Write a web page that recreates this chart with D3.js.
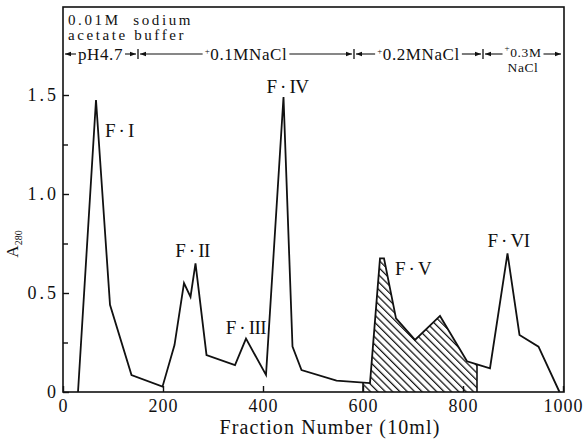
<!DOCTYPE html>
<html>
<head>
<meta charset="utf-8">
<script src="https://cdn.jsdelivr.net/npm/d3@7"></script>
<style>
  html, body { margin: 0; padding: 0; background: #fff; }
  svg { display: block; }
  text { font-family: "Liberation Serif", "DejaVu Serif", serif; fill: #111; }
</style>
</head>
<body>
<svg id="chart" width="586" height="439"></svg>
<script>
// Elution profile: fraction number vs absorbance at 280 nm
const fractions  = [30, 66, 94, 137, 199, 223, 242, 255, 265, 287, 344, 366, 406, 441, 459,
                    477, 547, 614, 634, 642, 666, 704, 754, 808, 828, 854, 889, 913, 951, 993];
const absorbance = [0, 1.475, 0.44, 0.086, 0.027, 0.237, 0.55, 0.48, 0.65, 0.187, 0.136, 0.27, 0.086, 1.49, 0.229,
                    0.111, 0.057, 0.045, 0.675, 0.675, 0.372, 0.263, 0.384, 0.155, 0.14, 0.12, 0.70, 0.288, 0.229, 0];

const xTickValues = [0, 200, 400, 600, 800, 1000];
const xTickLabels = ["0", "200", "400", "600", "800", "1000"];
const yTickValues = [0, 0.5, 1.0, 1.5];
const yTickLabels = ["0", "0.5", "1.0", "1.5"];
const yMinorTicks = [0.25, 0.75, 1.25];

// Peak names and the index of the point each one marks
const peakNames   = ["F·I", "F·II", "F·III", "F·IV", "F·V", "F·VI"];
const peakIndices = [1, 8, 11, 13, 19, 26];

// Eluent steps (fraction numbers where the buffer changes) and their labels
const bufferSteps  = [150, 582, 840];
const bufferLabels = [["pH4.7"], ["+0.1MNaCl"], ["+0.2MNaCl"], ["+0.3M", "NaCl"]];
const headerLines  = ["0.01M  sodium", "acetate buffer"];

// Hatched fraction range (F·V pool)
const hatchRange = [600, 828];

// ---- layout ----
const plot = { left: 63, right: 563, top: 7, bottom: 392 };
const svg = d3.select("#chart");
const ink = "#111";

const x = d3.scaleLinear().domain([0, 1000]).range([plot.left, plot.right]);
const y = d3.scaleLinear().domain([0, (plot.bottom - plot.top) / 198]).range([plot.bottom, plot.top]);

const pts = fractions.map((f, i) => [f, absorbance[i]]);

// hatch pattern
const defs = svg.append("defs");
defs.append("pattern")
  .attr("id", "hatch")
  .attr("patternUnits", "userSpaceOnUse")
  .attr("width", 5.2).attr("height", 5.2)
  .attr("patternTransform", "rotate(-45)")
  .append("line")
  .attr("x1", 0.6).attr("y1", -1).attr("x2", 0.6).attr("y2", 7)
  .attr("stroke", ink).attr("stroke-width", 1.3);

defs.append("clipPath").attr("id", "hatchClip")
  .append("rect")
  .attr("x", x(hatchRange[0])).attr("y", plot.top)
  .attr("width", x(hatchRange[1]) - x(hatchRange[0]))
  .attr("height", plot.bottom - plot.top);

// hatched area under the curve
const area = d3.area().x(d => x(d[0])).y0(y(0)).y1(d => y(d[1]));
svg.append("path")
  .datum(pts)
  .attr("d", area)
  .attr("fill", "url(#hatch)")
  .attr("clip-path", "url(#hatchClip)");

// vertical edges of the hatched region
function valueAt(f) {
  for (let i = 0; i < fractions.length - 1; i++) {
    if (f >= fractions[i] && f <= fractions[i + 1]) {
      const t = (f - fractions[i]) / (fractions[i + 1] - fractions[i]);
      return absorbance[i] + t * (absorbance[i + 1] - absorbance[i]);
    }
  }
  return 0;
}
hatchRange.forEach(f => {
  svg.append("line")
    .attr("x1", x(f)).attr("x2", x(f))
    .attr("y1", y(0)).attr("y2", y(valueAt(f)))
    .attr("stroke", ink).attr("stroke-width", 1.6);
});

// elution curve
const line = d3.line().x(d => x(d[0])).y(d => y(d[1]));
svg.append("path")
  .datum(pts)
  .attr("d", line)
  .attr("fill", "none")
  .attr("stroke", ink)
  .attr("stroke-width", 1.8)
  .attr("stroke-linejoin", "miter");

// frame
svg.append("rect")
  .attr("x", plot.left).attr("y", plot.top)
  .attr("width", plot.right + 1 - plot.left).attr("height", plot.bottom - plot.top)
  .attr("fill", "none").attr("stroke", ink).attr("stroke-width", 1.6);

// x axis (ticks point inward)
const xAxis = d3.axisBottom(x)
  .tickValues(xTickValues)
  .tickFormat((d, i) => xTickLabels[i])
  .tickSizeInner(-6).tickSizeOuter(0).tickPadding(7);
const gx = svg.append("g").attr("transform", `translate(0,${plot.bottom})`).call(xAxis);
gx.select(".domain").remove();
gx.selectAll(".tick line").attr("stroke", ink).attr("stroke-width", 1.4);
gx.selectAll(".tick text")
  .attr("font-size", 18).attr("letter-spacing", "1px").attr("fill", ink);

// y axis, labelled ticks
const yAxis = d3.axisLeft(y)
  .tickValues(yTickValues)
  .tickFormat((d, i) => yTickLabels[i])
  .tickSizeInner(-6).tickSizeOuter(0).tickPadding(4);
const gy = svg.append("g").attr("transform", `translate(${plot.left},0)`).call(yAxis);
gy.select(".domain").remove();
gy.selectAll(".tick line").attr("stroke", ink).attr("stroke-width", 1.4);
gy.selectAll(".tick text")
  .attr("font-size", 18).attr("letter-spacing", "3px").attr("fill", ink);

// y axis, minor ticks
const gyMinor = d3.axisLeft(y).tickValues(yMinorTicks).tickFormat("").tickSizeInner(-5).tickSizeOuter(0);
const gm = svg.append("g").attr("transform", `translate(${plot.left},0)`).call(gyMinor);
gm.select(".domain").remove();
gm.selectAll(".tick line").attr("stroke", ink).attr("stroke-width", 1.4);

// axis titles
svg.append("text")
  .attr("x", (plot.left + plot.right) / 2 + 17).attr("y", 434)
  .attr("text-anchor", "middle")
  .attr("font-size", 20).attr("letter-spacing", "1.1px")
  .text("Fraction Number (10ml)");

const yTitle = svg.append("text")
  .attr("transform", "translate(18,244) rotate(-90)")
  .attr("text-anchor", "middle")
  .attr("font-size", 17);
yTitle.append("tspan").text("A");
yTitle.append("tspan").attr("font-size", 10).attr("dy", 4).text("280");

// peak labels
const labelLayout = [
  { anchor: "start",  dx: 9,  dy: 37 },
  { anchor: "middle", dx: -3, dy: -6 },
  { anchor: "middle", dx: 0,  dy: -5 },
  { anchor: "middle", dx: 4,  dy: -4 },
  { anchor: "start",  dx: 11, dy: 17 },
  { anchor: "middle", dx: 1,  dy: -6 }
];
peakNames.forEach((name, i) => {
  const k = peakIndices[i], L = labelLayout[i];
  const [fpart, num] = name.split("·");
  const t = svg.append("text")
    .attr("x", x(fractions[k]) + L.dx)
    .attr("y", y(absorbance[k]) + L.dy)
    .attr("text-anchor", L.anchor)
    .attr("font-size", 19);
  t.append("tspan").attr("letter-spacing", "3px").text(fpart + "·");
  t.append("tspan").attr("letter-spacing", "-0.5px").text(num);
});

// buffer header
headerLines.forEach((s, i) => {
  svg.append("text")
    .attr("x", plot.left + 5).attr("y", 25 + i * 15)
    .attr("font-size", 15).attr("letter-spacing", "2.6px")
    .style("white-space", "pre")
    .text(s);
});

// eluent steps row with arrows
const annoY = 54;
const bounds = [0, ...bufferSteps, 1000];
function arrowHead(tipX, dir) {
  svg.append("path")
    .attr("d", `M${tipX},${annoY} L${tipX + dir * 6},${annoY - 2.3} L${tipX + dir * 6},${annoY + 2.3} Z`)
    .attr("fill", ink);
}
bufferSteps.forEach(f => {
  svg.append("line")
    .attr("x1", x(f)).attr("x2", x(f))
    .attr("y1", annoY - 5).attr("y2", annoY + 5)
    .attr("stroke", ink).attr("stroke-width", 1.3);
});
bufferLabels.forEach((lines, i) => {
  const x0 = x(bounds[i]) + 2, x1 = x(bounds[i + 1]) - 2;
  const cx = (x(bounds[i]) + x(bounds[i + 1])) / 2;
  const two = lines.length > 1;
  const t = svg.append("text")
    .attr("x", cx)
    .attr("y", two ? 57 : 60)
    .attr("text-anchor", "middle")
    .attr("font-size", two ? 13.5 : 17)
    .attr("letter-spacing", "0.6px");
  lines.forEach((s, j) => {
    const row = j === 0 ? t.append("tspan") : t.append("tspan").attr("x", cx).attr("dy", 15);
    if (s.startsWith("+")) {
      row.append("tspan").attr("font-size", 9).attr("dy", -6).text("+");
      row.append("tspan").attr("dy", 6).text(s.slice(1));
    } else {
      row.text(s);
    }
  });
  const b = t.node().getBBox();
  const left = b.x, right = b.x + b.width;
  [[x0, left - 2], [right + 2, x1]].forEach(([a, c]) => {
    if (c > a) {
      svg.append("line")
        .attr("x1", a).attr("x2", c).attr("y1", annoY).attr("y2", annoY)
        .attr("stroke", ink).attr("stroke-width", 1.1);
    }
  });
  arrowHead(x0, 1);
  arrowHead(x1, -1);
});
</script>
</body>
</html>
